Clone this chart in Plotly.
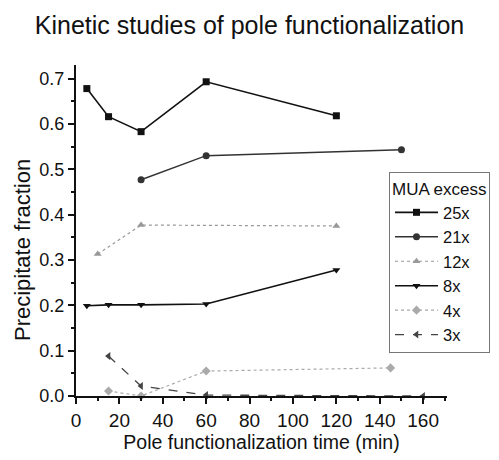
import plotly.graph_objects as go

title = "Kinetic studies of pole functionalization"
x_label = "Pole functionalization time (min)"
y_label = "Precipitate fraction"

x_25 = [5, 15, 30, 60, 120]
y_25 = [0.678, 0.616, 0.583, 0.693, 0.618]
x_21 = [30, 60, 150]
y_21 = [0.477, 0.530, 0.543]
x_12 = [10, 30, 120]
y_12 = [0.313, 0.377, 0.375]
x_8 = [5, 15, 30, 60, 120]
y_8 = [0.199, 0.201, 0.201, 0.203, 0.278]
x_4 = [15, 30, 60, 145]
y_4 = [0.011, 0.0, 0.055, 0.062]
x_3 = [15, 30, 60, 160]
y_3 = [0.088, 0.022, 0.002, 0.0]

series = [
    ("25x", x_25, y_25, "#111111", "solid", "square", 1.6),
    ("21x", x_21, y_21, "#333333", "solid", "circle", 1.4),
    ("12x", x_12, y_12, "#999999", "dot", "triangle-up", 1.2),
    ("8x", x_8, y_8, "#111111", "solid", "triangle-down", 1.6),
    ("4x", x_4, y_4, "#aaaaaa", "dot", "diamond", 1.2),
    ("3x", x_3, y_3, "#444444", "dash", "triangle-left", 1.3),
]

fig = go.Figure()
for name, xs, ys, color, dash, sym, lw in series:
    fig.add_trace(go.Scatter(
        x=xs, y=ys, name=name, mode="lines+markers",
        line=dict(color=color, dash=dash, width=lw),
        marker=dict(symbol=sym, size=7, color=color),
        cliponaxis=False,
    ))

font_family = "Liberation Sans, Arial, sans-serif"
fig.update_layout(
    width=499, height=460,
    margin=dict(l=76, r=52, t=65, b=64, autoexpand=False),
    paper_bgcolor="white", plot_bgcolor="white",
    font=dict(family=font_family, color="#111111", size=16.5),
    title=dict(text=title, x=0.5, xanchor="center", xref="container",
               y=1 - 16 / 460, yref="container", yanchor="top",
               font=dict(size=25, family=font_family, color="#111111")),
    legend=dict(
        x=(389 - 76) / 371, y=(396 - 172) / 331, xanchor="left", yanchor="top",
        bordercolor="#777777", borderwidth=1, bgcolor="white",
        title=dict(text="MUA excess", font=dict(size=17)),
        font=dict(size=16.5), tracegroupgap=0, itemwidth=43,
    ),
    showlegend=True,
    annotations=[dict(
        text=y_label, textangle=-90, showarrow=False,
        xref="paper", yref="paper", x=(22 - 76) / 371, y=(396 - 250) / 331,
        xanchor="center", yanchor="middle",
        font=dict(size=22, family=font_family, color="#111111"),
    )],
)
fig.update_xaxes(
    range=[0, 171], showgrid=False, zeroline=False, automargin=False,
    showline=True, linecolor="#111111", linewidth=2, layer="above traces",
    ticks="outside", ticklen=6, tickwidth=1.5, tickcolor="#111111",
    tick0=0, dtick=20,
    minor=dict(ticks="outside", ticklen=3, dtick=10, tickcolor="#111111"),
    title=dict(text=x_label, font=dict(size=19.5), standoff=4),
    tickfont=dict(size=19),
)
fig.update_yaxes(
    range=[0, 0.73], showgrid=False, zeroline=False, automargin=False,
    showline=True, linecolor="#111111", linewidth=2, layer="above traces",
    ticks="outside", ticklen=6, tickwidth=1.5, tickcolor="#111111",
    tick0=0, dtick=0.1, tickformat=".1f",
    minor=dict(ticks="outside", ticklen=3, dtick=0.05, tickcolor="#111111"),
    tickfont=dict(size=18),
)

fig.write_html("out.html", config={"displayModeBar": False},
               post_script="document.body.style.margin='0';")
